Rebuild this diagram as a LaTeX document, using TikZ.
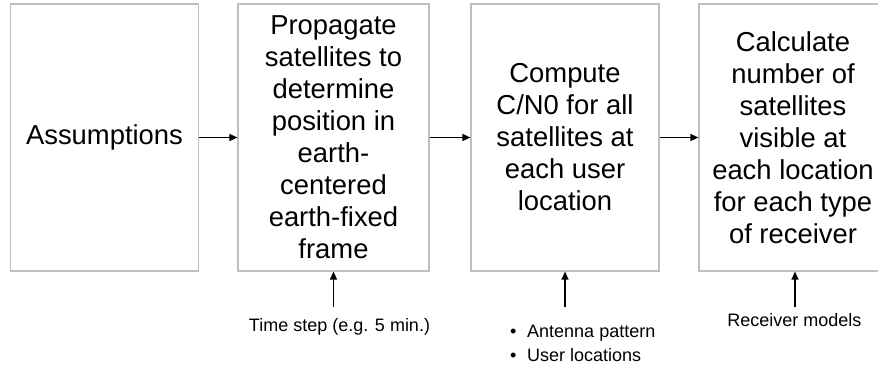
\documentclass[tikz,border=0pt]{standalone}
\usepackage{fontspec}
\setmainfont{Liberation Sans}
\usetikzlibrary{arrows.meta}
\definecolor{boxgray}{RGB}{191,191,191}
\begin{document}
\begin{tikzpicture}[x=1pt,y=-1pt,
  stepbox/.style={draw=boxgray, line width=1.2pt, minimum width=188pt,
    minimum height=267pt, inner sep=0pt, align=center,
    font=\fontsize{27.4}{32}\selectfont},
  lbl/.style={inner sep=0pt, font=\fontsize{18}{24}\selectfont},
  arr/.style={line width=1.3pt, -{Triangle[length=8pt,width=7pt]}}]
\clip (0,0) rectangle (878,368);

% process steps
\node[stepbox] (b1) at (104.5,137.5) {Assumptions};
\node[stepbox, minimum width=191pt] (b2) at (333.5,137.5)
  {Propagate\\satellites to\\determine\\position in\\earth-\\centered\\earth-fixed\\frame};
\node[stepbox] (b3) at (565,137.5)
  {Compute\\C/N0 for all\\satellites at\\each user\\location};
\node[stepbox] (b4) at (793,137.5)
  {Calculate\\number of\\satellites\\visible at\\each location\\for each type\\of receiver};

% flow between steps
\draw[arr] (b1.east) -- (b2.west);
\draw[arr] (b2.east) -- (b3.west);
\draw[arr] (b3.east) -- (b4.west);

% inputs below the steps
\node[lbl, anchor=base] (t1) at (339.5,331) {Time step (e.g. 5 min.)};
\node[lbl, anchor=base west] (t2) at (510,337) {\makebox[17pt][l]{•}Antenna pattern};
\node[lbl, anchor=base west] (t3) at (510,361) {\makebox[17pt][l]{•}User locations};
\node[lbl, anchor=base] (t4) at (794.5,326) {Receiver models};

\coordinate (in2) at (333.5,307);
\coordinate (in3) at (565,307);
\coordinate (in4) at (795,307);
\draw[arr] (in2) -- (b2.south);
\draw[arr] (in3) -- (b3.south);
\draw[arr] (in4) -- (in4 |- b4.south);
\end{tikzpicture}
\end{document}
